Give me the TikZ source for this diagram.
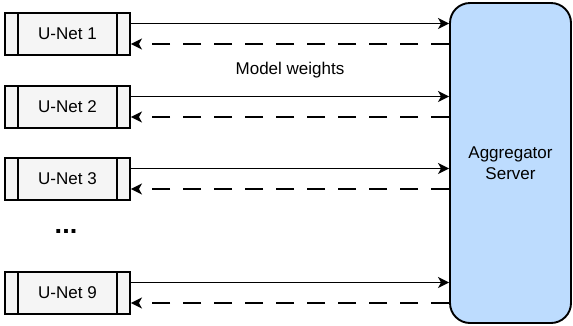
\documentclass[tikz,border=0pt]{standalone}
\usepackage{fontspec}
\setmainfont{Liberation Sans}
\usetikzlibrary{arrows.meta}
\definecolor{boxgray}{HTML}{F5F5F5}
\definecolor{serverblue}{HTML}{BDDCFE}
\begin{document}
\begin{tikzpicture}[x=1pt,y=-1pt,
  font=\fontsize{17}{20.5}\selectfont,
  unet/.style={draw, line width=1.9pt, fill=boxgray, minimum width=125pt, minimum height=42pt, inner sep=0pt,
    path picture={
      \draw[line width=1.9pt] ([xshift=13pt]path picture bounding box.north west) -- ([xshift=13pt]path picture bounding box.south west);
      \draw[line width=1.9pt] ([xshift=-13pt]path picture bounding box.north east) -- ([xshift=-13pt]path picture bounding box.south east);
    }},
  server/.style={draw, line width=1.9pt, fill=serverblue, rounded corners=20pt, minimum width=121pt, minimum height=320pt, align=center, inner sep=0pt},
  send/.style={line width=1.9pt, -{Stealth[length=11pt,width=11pt,inset=3pt]}},
  recv/.style={line width=1.9pt, dash pattern=on 18pt off 13pt, -{Stealth[length=11pt,width=11pt,inset=3pt]}}
]
\useasboundingbox (0,0) rectangle (573,325);
\node[server] (srv) at (510.5,163) {Aggregator\\Server};
\node[unet] (u1) at (67.5,34) {U-Net 1};
\node[unet] (u2) at (67.5,107) {U-Net 2};
\node[unet] (u3) at (67.5,179) {U-Net 3};
\node[unet] (u9) at (67.5,293) {U-Net 9};
\node (dots) at (66,231) {\fontsize{27}{28}\selectfont\textbf{...}};
\node (mw) at (290,70) {Model weights};
\foreach \u in {u1,u2,u3,u9}{
  \draw[send] ([yshift=10.5pt]\u.east) -- ([yshift=10.5pt]\u.east -| srv.west);
  \draw[recv] ([yshift=-10pt]\u.east -| srv.west) -- ([yshift=-10pt]\u.east);
}
\end{tikzpicture}
\end{document}
